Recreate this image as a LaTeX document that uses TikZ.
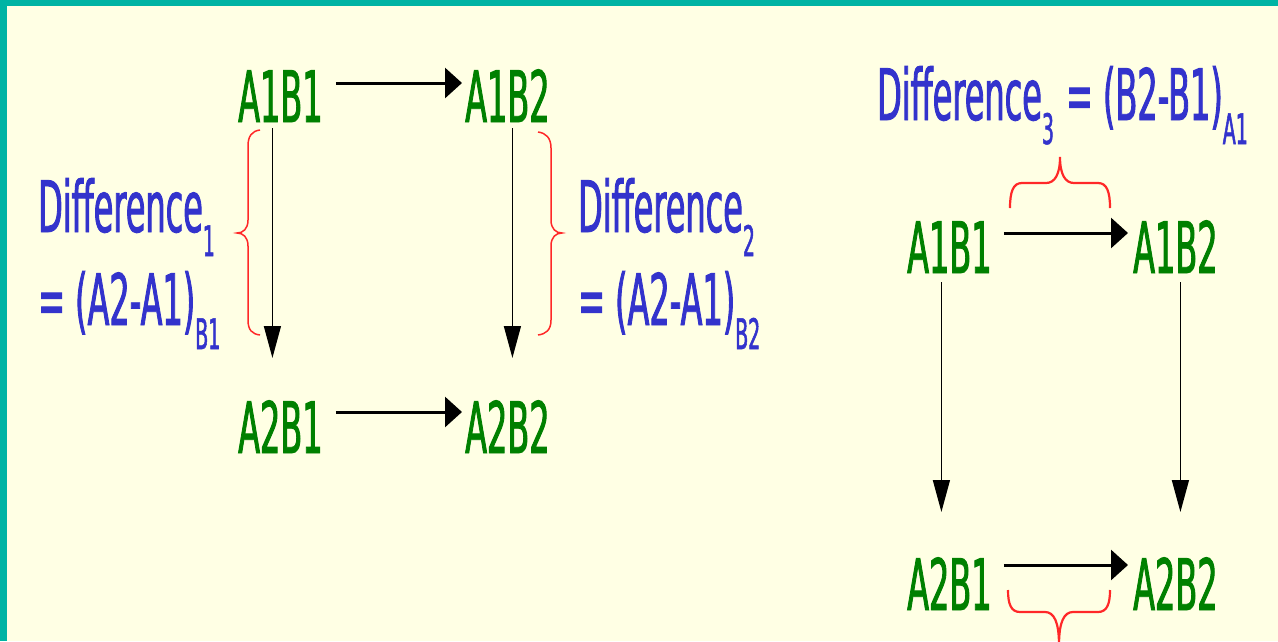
\documentclass[tikz,border=0pt]{standalone}
\usepackage{fontspec}
\usetikzlibrary{arrows.meta}
\newfontfamily\dfont[FakeStretch=0.45,FakeBold=1.2]{DejaVu Sans}
\definecolor{bgyellow}{RGB}{255,255,228}
\definecolor{tealbar}{RGB}{0,180,164}
\definecolor{dgreen}{RGB}{0,128,0}
\definecolor{dblue}{RGB}{51,51,204}
\definecolor{bred}{RGB}{255,40,40}
\newcommand\dsub[1]{\raisebox{-24pt}{\fontsize{42}{46}\selectfont #1}}
\begin{document}
\begin{tikzpicture}[x=1pt,y=-1pt,
  cell/.style={inner sep=0pt, anchor=base west, text=dgreen, font=\dfont\fontsize{71}{80}\selectfont},
  lab/.style={inner sep=0pt, anchor=base west, text=dblue, font=\dfont\fontsize{71}{80}\selectfont},
  harrow/.style={line width=3pt, -{Triangle[length=17pt,width=30pt]}},
  varrow/.style={line width=1.5pt, -{Triangle[length=32pt,width=17pt]}},
  vbrace/.style={bred, line width=1.5pt},
  hbrace/.style={bred, line width=2.2pt}]
\fill[bgyellow] (0,0) rectangle (1278,641);
\fill[tealbar] (0,0) rectangle (1278,6);
\fill[tealbar] (0,0) rectangle (7,641);
\useasboundingbox (0,0) rectangle (1278,641);

% cells
\node[cell] (L11) at (238,122) {A1B1};
\node[cell] (L12) at (465,122) {A1B2};
\node[cell] (L21) at (238,453) {A2B1};
\node[cell] (L22) at (465,453) {A2B2};
\node[cell] (R11) at (907,273) {A1B1};
\node[cell] (R12) at (1133,273) {A1B2};
\node[cell] (R21) at (907,610) {A2B1};
\node[cell] (R22) at (1133,610) {A2B2};

% horizontal arrows
\draw[harrow] ([xshift=13pt,yshift=39pt]L11.base east) -- ([xshift=-3pt,yshift=39pt]L12.base west);
\draw[harrow] ([xshift=13pt,yshift=41pt]L21.base east) -- ([xshift=-3pt,yshift=41pt]L22.base west);
\draw[harrow] ([xshift=12pt,yshift=40pt]R11.base east) -- ([xshift=-5pt,yshift=40pt]R12.base west);
\draw[harrow] ([xshift=12pt,yshift=45pt]R21.base east) -- ([xshift=-5pt,yshift=45pt]R22.base west);

% vertical arrows
\draw[varrow] ([xshift=-8pt,yshift=-6pt]L11.base) -- ([xshift=-8pt,yshift=95pt]L21.base);
\draw[varrow] ([xshift=5pt,yshift=-6pt]L12.base) -- ([xshift=5pt,yshift=95pt]L22.base);
\draw[varrow] ([xshift=-8pt,yshift=-9pt]R11.base) -- ([xshift=-8pt,yshift=98pt]R21.base);
\draw[varrow] ([xshift=5pt,yshift=-9pt]R12.base) -- ([xshift=5pt,yshift=98pt]R22.base);

% braces
\draw[vbrace] (260,130) .. controls (252,131) and (248,136) .. (248,146) -- (248,220)
  .. controls (248,229) and (243,233) .. (237,233)
  .. controls (243,233) and (248,237) .. (248,246) -- (248,320)
  .. controls (248,330) and (252,334) .. (260,335);
\draw[vbrace] (538,132) .. controls (546,133) and (551,138) .. (551,148) -- (551,220)
  .. controls (551,229) and (556,233) .. (562,233)
  .. controls (556,233) and (551,237) .. (551,246) -- (551,320)
  .. controls (551,330) and (546,334) .. (538,335);
\draw[hbrace] (1010,208) .. controls (1010,192) and (1013,183) .. (1022,183) -- (1046,183)
  .. controls (1055,183) and (1060,174) .. (1060,157)
  .. controls (1060,174) and (1065,183) .. (1074,183) -- (1098,183)
  .. controls (1107,183) and (1110,192) .. (1110,208);
\draw[hbrace] (1008,590) .. controls (1008,604) and (1011,612) .. (1020,612) -- (1045,612)
  .. controls (1054,612) and (1059,622) .. (1059,645)
  .. controls (1059,622) and (1064,612) .. (1073,612) -- (1098,612)
  .. controls (1107,612) and (1110,604) .. (1110,590);

% labels
\node[lab] (D1) at (38,232) {Difference\dsub{1}};
\node[lab] (E1) at (38,325) {= (A2-A1)\dsub{B1}};
\node[lab] (D2) at (578,232) {Difference\dsub{2}};
\node[lab] (E2) at (578,325) {= (A2-A1)\dsub{B2}};
\node[lab] (D3) at (877,120) {Difference\dsub{3}\hspace{2pt} = (B2-B1)\dsub{A1}};
\end{tikzpicture}
\end{document}
